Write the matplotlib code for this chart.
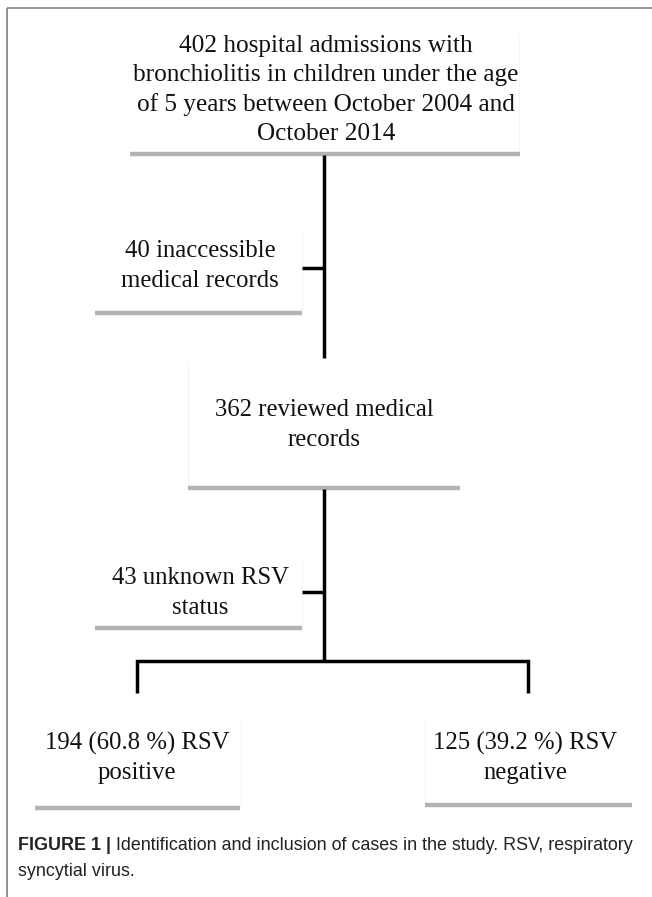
import matplotlib
matplotlib.use("Agg")
import matplotlib.pyplot as plt

# ---- data ----
total_admissions = 402
inaccessible = 40
reviewed = 362
unknown_rsv = 43
rsv_pos = 194
rsv_neg = 125
pct_pos = 60.8
pct_neg = 39.2

box_texts = [
    f"{total_admissions} hospital admissions with\nbronchiolitis in children under the age\nof 5 years between October 2004 and\nOctober 2014",
    f"{inaccessible} inaccessible\nmedical records",
    f"{reviewed} reviewed medical\nrecords",
    f"{unknown_rsv} unknown RSV\nstatus",
    f"{rsv_pos} ({pct_pos} %) RSV\npositive",
    f"{rsv_neg} ({pct_neg} %) RSV\nnegative",
]
caption_bold = "FIGURE 1 |"
caption_rest = " Identification and inclusion of cases in the study. RSV, respiratory"
caption_line2 = "syncytial virus."

W, H = 652, 897
fig = plt.figure(figsize=(W / 100, H / 100), dpi=100)
ax = fig.add_axes([0, 0, 1, 1])
ax.set_xlim(0, W)
ax.set_ylim(H, 0)
ax.axis("off")

# frame (top and left)
ax.plot([7, W], [8, 8], color="#8a8a8a", lw=1.3, solid_capstyle="butt")
ax.plot([7, 7], [8, H], color="#8a8a8a", lw=1.3, solid_capstyle="butt")

serif = ["Liberation Serif", "DejaVu Serif"]
gray = "#b3b3b3"
faint = "#f5f5f5"

# boxes: (center x, center y of text block, underline y, underline x0, x1,
#         faint edge x, edge top y, font size)
boxes = [
    (326, 90, 154, 130, 520, 519, 35, 18.2),
    (200, 266, 313, 95, 302, 302, 232, 17.8),
    (324, 425, 488, 188, 460, 188, 364, 17.8),
    (200, 593, 628, 95, 302, 302, 560, 17.8),
    (137, 758, 808, 35, 240, 241, 722, 17.8),
    (525, 758, 805, 425, 632, 425, 722, 17.8),
]
for (cx, cy, uy, x0, x1, ex, ey, fs), t in zip(boxes, box_texts):
    ax.plot([ex, ex], [ey, uy], color=faint, lw=1.0)
    ax.text(cx, cy, t, ha="center", va="center", family=serif, fontsize=fs,
            linespacing=1.42, color="#111111")
    ax.plot([x0, x1], [uy, uy], color=gray, lw=3.2, solid_capstyle="butt")

lw = 2.5
k = "black"
# main vertical connectors
ax.plot([324, 324], [155, 358], color=k, lw=lw, solid_capstyle="butt")
ax.plot([302, 324], [268, 268], color=k, lw=lw, solid_capstyle="butt")
ax.plot([324, 324], [489, 661], color=k, lw=lw, solid_capstyle="butt")
ax.plot([302, 324], [592, 592], color=k, lw=lw, solid_capstyle="butt")
# bottom bracket
ax.plot([137, 137, 528, 528], [693, 661, 661, 693], color=k, lw=lw,
        solid_joinstyle="miter", solid_capstyle="butt")

# caption
sans = ["Liberation Sans", "DejaVu Sans"]
cfs = 12.9
tb = ax.text(18, 845, caption_bold, ha="left", va="center", family=sans,
             fontsize=cfs, fontweight="bold", color="#222222")
fig.canvas.draw()
bb = tb.get_window_extent(renderer=fig.canvas.get_renderer())
x_end = ax.transData.inverted().transform((bb.x1, bb.y0))[0]
ax.text(x_end, 845, caption_rest, ha="left", va="center", family=sans,
        fontsize=cfs, color="#222222")
ax.text(18, 871, caption_line2, ha="left", va="center", family=sans,
        fontsize=cfs, color="#222222")

fig.savefig("out.png", dpi=100)
